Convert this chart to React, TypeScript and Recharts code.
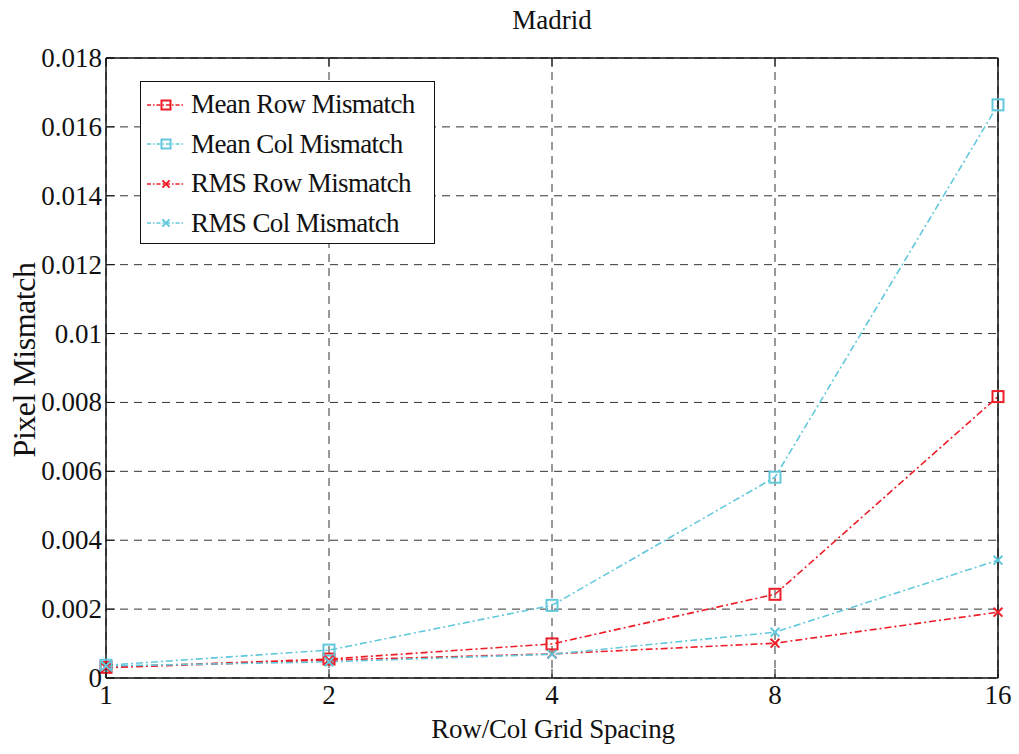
import { LineChart, Line, XAxis, YAxis, CartesianGrid } from "recharts";

const gridSpacing = [1, 2, 4, 8, 16];
const meanRow = [0.00031, 0.00055, 0.00099, 0.00243, 0.00817];
const meanCol = [0.00037, 0.00081, 0.00211, 0.00583, 0.01664];
const rmsRow = [0.0003, 0.00052, 0.0007, 0.00101, 0.00191];
const rmsCol = [0.00035, 0.00047, 0.00069, 0.00133, 0.00342];
const yTicks = [0, 0.002, 0.004, 0.006, 0.008, 0.01, 0.012, 0.014, 0.016, 0.018];
const yTickLabels = ["0", "0.002", "0.004", "0.006", "0.008", "0.01", "0.012", "0.014", "0.016", "0.018"];

const RED = "#ee1d27";
const CYAN = "#62c8dc";
const FONT = "'Liberation Serif', 'DejaVu Serif', serif";
const DASH = "7 3 2 3";

const series = [
  { key: "meanRow", name: "Mean Row Mismatch", color: RED, marker: "square" },
  { key: "meanCol", name: "Mean Col Mismatch", color: CYAN, marker: "square" },
  { key: "rmsRow", name: "RMS Row Mismatch", color: RED, marker: "cross" },
  { key: "rmsCol", name: "RMS Col Mismatch", color: CYAN, marker: "cross" },
];

const data = gridSpacing.map((x, i) => ({
  x,
  meanRow: meanRow[i],
  meanCol: meanCol[i],
  rmsRow: rmsRow[i],
  rmsCol: rmsCol[i],
}));

// markers like matlab: open squares and x crosses
function Marker({ cx, cy, color, type, size = 11 }: any) {
  if (cx == null || cy == null) return null;
  const h = size / 2;
  if (type === "square") {
    return <rect x={cx - h} y={cy - h} width={size} height={size} fill="none" stroke={color} strokeWidth={2} />;
  }
  const c = h * 0.8;
  return (
    <g stroke={color} strokeWidth={2}>
      <line x1={cx - c} y1={cy - c} x2={cx + c} y2={cy + c} />
      <line x1={cx - c} y1={cy + c} x2={cx + c} y2={cy - c} />
    </g>
  );
}

const TICK_LEN = 9;

const LeftTick = ({ x, y, payload, index }: any) => (
  <g>
    <text x={x} y={y} dy={9} textAnchor="end" fontFamily={FONT} fontSize={27} fill="#111">
      {yTickLabels[index] ?? payload.value}
    </text>
    <line x1={x + 4} y1={y} x2={x + 4 + TICK_LEN} y2={y} stroke="#111" strokeWidth={1} />
  </g>
);

const RightTick = ({ x, y }: any) => (
  <line x1={x - 4} y1={y} x2={x - 4 - TICK_LEN} y2={y} stroke="#111" strokeWidth={1} />
);

const BottomTick = ({ x, y, payload }: any) => (
  <g>
    <text x={x} y={y} dy={22} textAnchor="middle" fontFamily={FONT} fontSize={27} fill="#111">
      {payload.value}
    </text>
    <line x1={x} y1={y - 4} x2={x} y2={y - 4 - TICK_LEN} stroke="#111" strokeWidth={1} />
  </g>
);

const TopTick = ({ x, y }: any) => (
  <line x1={x} y1={y + 4} x2={x} y2={y + 4 + TICK_LEN} stroke="#111" strokeWidth={1} />
);

const LegendBox = () => (
  <div
    style={{
      position: "absolute",
      left: 140,
      top: 81,
      border: "1.5px solid #111",
      background: "#fff",
      width: 295,
      height: 163,
      padding: "3px 0 0 0",
      boxSizing: "border-box",
    }}
  >
    {series.map((s) => (
      <div key={s.key} style={{ display: "flex", alignItems: "center", height: 39.5 }}>
        <svg width={50} height={20} style={{ flex: "none" }}>
          <line x1={6} y1={10} x2={44} y2={10} stroke={s.color} strokeWidth={1.5} strokeDasharray="4 2 1.5 2" />
          <Marker cx={25} cy={10} color={s.color} type={s.marker} size={9} />
        </svg>
        <span style={{ fontFamily: FONT, fontSize: 27, color: "#111", letterSpacing: -0.6, lineHeight: 1 }}>
          {s.name}
        </span>
      </div>
    ))}
  </div>
);

const labelStyle: any = {
  position: "absolute",
  fontFamily: FONT,
  fontSize: 27,
  color: "#111",
  whiteSpace: "nowrap",
};

export default function App() {
  return (
    <div style={{ position: "absolute", left: 0, top: 0, width: 1019, height: 754, background: "#fff" }}>
      <LineChart
        width={1019}
        height={754}
        data={data}
        margin={{ top: 18, right: 1, bottom: 36, left: 26 }}
        style={{ position: "absolute", left: 0, top: 0 }}
      >
        <CartesianGrid xAxisId="b" yAxisId="l" stroke="#333" strokeDasharray="8 6" strokeWidth={1} horizontal vertical />
        <XAxis
          xAxisId="b"
          dataKey="x"
          type="category"
          height={40}
          axisLine={{ stroke: "#111", strokeWidth: 1.5 }}
          tickLine={false}
          tickSize={0}
          tickMargin={4}
          tick={<BottomTick />}
          interval={0}
        />
        <XAxis
          xAxisId="t"
          dataKey="x"
          type="category"
          orientation="top"
          height={40}
          axisLine={{ stroke: "#111", strokeWidth: 1.5 }}
          tickLine={false}
          tickSize={0}
          tickMargin={4}
          tick={<TopTick />}
          interval={0}
        />
        <YAxis
          yAxisId="l"
          width={80}
          domain={[0, 0.018]}
          ticks={yTicks}
          interval={0}
          axisLine={{ stroke: "#111", strokeWidth: 1.5 }}
          tickLine={false}
          tickSize={0}
          tickMargin={4}
          tick={<LeftTick />}
        />
        <YAxis
          yAxisId="r"
          orientation="right"
          width={20}
          domain={[0, 0.018]}
          ticks={yTicks}
          interval={0}
          axisLine={{ stroke: "#111", strokeWidth: 1.5 }}
          tickLine={false}
          tickSize={0}
          tickMargin={4}
          tick={<RightTick />}
        />
        {series.map((s) => (
          <Line
            key={s.key}
            xAxisId="b"
            yAxisId="l"
            dataKey={s.key}
            name={s.name}
            type="linear"
            stroke={s.color}
            strokeWidth={1.6}
            strokeDasharray={DASH}
            dot={(p: any) => <Marker key={`${s.key}-${p.index}`} cx={p.cx} cy={p.cy} color={s.color} type={s.marker} size={11} />}
            activeDot={false}
            isAnimationActive={false}
          />
        ))}
      </LineChart>
      <div style={{ ...labelStyle, left: 0, width: 1104, top: 5, textAlign: "center" }}>Madrid</div>
      <div style={{ ...labelStyle, left: 0, width: 1106, top: 714, textAlign: "center", letterSpacing: -0.2 }}>
        Row/Col Grid Spacing
      </div>
      <div
        style={{
          ...labelStyle,
          fontSize: 32,
          letterSpacing: -0.5,
          left: 24,
          top: 360,
          transform: "translate(-50%, -50%) rotate(-90deg)",
        }}
      >
        Pixel Mismatch
      </div>
      <LegendBox />
    </div>
  );
}
